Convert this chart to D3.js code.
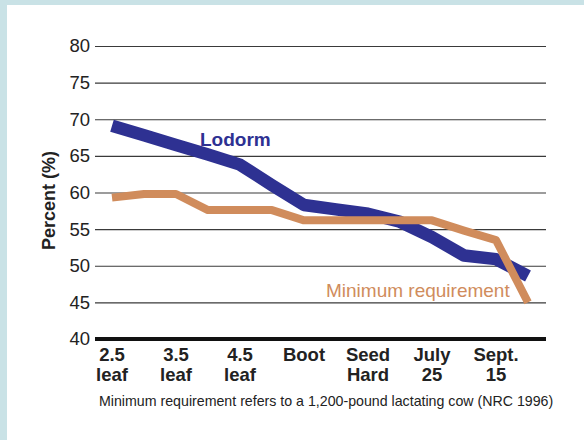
<!DOCTYPE html>
<html>
<head>
<meta charset="utf-8">
<script src="https://cdn.jsdelivr.net/npm/d3@7"></script>
<style>
  body { margin: 0; background: #ffffff; }
  svg { display: block; font-family: "Liberation Sans", Arial, Helvetica, sans-serif; }
</style>
</head>
<body>
<svg id="chart"></svg>
<script>
// categories (growth stages), data points fall on whole and half steps
const stages = [["2.5", "leaf"], ["3.5", "leaf"], ["4.5", "leaf"], ["Boot", ""], ["Seed", "Hard"], ["July", "25"], ["Sept.", "15"]];
const steps = [0, 0.5, 1, 1.5, 2, 2.5, 3, 3.5, 4, 4.5, 5, 5.5, 6, 6.5];
const lodorm = [69.1, 67.8, 66.5, 65.2, 63.8, 61.0, 58.3, 57.7, 57.1, 56.0, 53.9, 51.4, 50.9, 48.6];
const minReq = [59.3, 59.8, 59.8, 57.6, 57.6, 57.6, 56.2, 56.2, 56.2, 56.2, 56.2, 54.8, 53.5, 45.0];
const yTicks = [40, 45, 50, 55, 60, 65, 70, 75, 80];

const W = 584, H = 440;
const svg = d3.select("#chart").attr("width", W).attr("height", H);

// light frame on top and left
svg.append("rect").attr("width", W).attr("height", H).attr("fill", "#c9e2e6");
svg.append("rect").attr("x", 7).attr("y", 5).attr("width", W - 7).attr("height", H - 5).attr("fill", "#ffffff");

const gridLeft = 95, gridRight = 546;
const y = d3.scaleLinear().domain([40, 80]).range([339, 46]);
const x = d3.scaleLinear().domain([0, 6.5]).range([112, 528]);

// y axis with gridlines
const yAxis = d3.axisLeft(y)
  .tickValues(yTicks)
  .tickSize(-(gridRight - gridLeft))
  .tickPadding(5);

const gy = svg.append("g")
  .attr("transform", `translate(${gridLeft},0)`)
  .call(yAxis);
gy.select(".domain").remove();
gy.selectAll(".tick line")
  .attr("stroke", "#3a3a3a")
  .attr("stroke-width", 1.2);
gy.selectAll(".tick text")
  .attr("fill", "#222")
  .style("font-size", "18.5px")
  .style("font-family", "'Liberation Sans', Arial, sans-serif");

// thick base line at 40
svg.append("line")
  .attr("x1", gridLeft).attr("x2", gridRight)
  .attr("y1", y(40)).attr("y2", y(40))
  .attr("stroke", "#111").attr("stroke-width", 4);

// y title
svg.append("text")
  .attr("transform", `translate(55,${(y(40) + y(80)) / 2 + 8}) rotate(-90)`)
  .attr("text-anchor", "middle")
  .style("font-size", "18px")
  .style("font-weight", "bold")
  .attr("fill", "#222")
  .text("Percent (%)");

// x labels
const xl = svg.append("g");
stages.forEach((s, i) => {
  const t = xl.append("text")
    .attr("x", x(i))
    .attr("text-anchor", "middle")
    .style("font-size", "18.5px")
    .style("font-weight", "bold")
    .attr("fill", "#222");
  t.append("tspan").attr("x", x(i)).attr("y", 361).text(s[0]);
  t.append("tspan").attr("x", x(i)).attr("y", 381).text(s[1]);
});

const line = d3.line()
  .x((d, i) => x(steps[i]))
  .y(d => y(d));

svg.append("path")
  .datum(lodorm)
  .attr("d", line)
  .attr("fill", "none")
  .attr("stroke", "#2e3192")
  .attr("stroke-width", 12.5)
  .attr("stroke-linejoin", "round");

svg.append("path")
  .datum(minReq)
  .attr("d", line)
  .attr("fill", "none")
  .attr("stroke", "#d08c5c")
  .attr("stroke-width", 8)
  .attr("stroke-linejoin", "round");

// series labels
svg.append("text")
  .attr("x", 200).attr("y", 146)
  .style("font-size", "19px")
  .style("font-weight", "bold")
  .attr("fill", "#2e3192")
  .text("Lodorm");

svg.append("text")
  .attr("x", 326).attr("y", 297)
  .style("font-size", "19px")
  .attr("fill", "#d08c5c")
  .text("Minimum requirement");

// footnote
svg.append("text")
  .attr("x", 99).attr("y", 406)
  .style("font-size", "14.2px")
  .attr("fill", "#222")
  .text("Minimum requirement refers to a 1,200-pound lactating cow (NRC 1996)");
</script>
</body>
</html>
